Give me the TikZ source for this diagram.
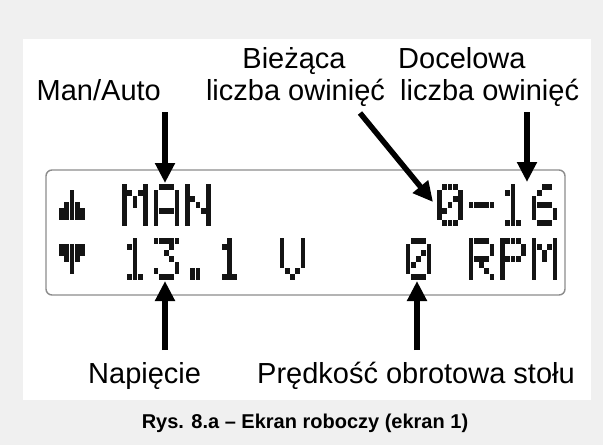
\documentclass[tikz,border=0pt]{standalone}
\usepackage{fontspec}
\setmainfont{Liberation Sans}
\usetikzlibrary{arrows.meta}

% 5x7 dot-matrix glyphs, one row per group, left to right
\def\gM{{1,0,0,0,1},{1,1,0,1,1},{1,0,1,0,1},{1,0,1,0,1},{1,0,0,0,1},{1,0,0,0,1},{1,0,0,0,1}}
\def\gA{{0,1,1,1,0},{1,0,0,0,1},{1,0,0,0,1},{1,0,0,0,1},{1,1,1,1,1},{1,0,0,0,1},{1,0,0,0,1}}
\def\gN{{1,0,0,0,1},{1,0,0,0,1},{1,1,0,0,1},{1,0,1,0,1},{1,0,0,1,1},{1,0,0,0,1},{1,0,0,0,1}}
\def\gZero{{0,1,1,1,0},{1,0,0,0,1},{1,0,0,1,1},{1,0,1,0,1},{1,1,0,0,1},{1,0,0,0,1},{0,1,1,1,0}}
\def\gDash{{0,0,0,0,0},{0,0,0,0,0},{0,0,0,0,0},{1,1,1,1,1},{0,0,0,0,0},{0,0,0,0,0},{0,0,0,0,0}}
\def\gOne{{0,0,1,0,0},{0,1,1,0,0},{0,0,1,0,0},{0,0,1,0,0},{0,0,1,0,0},{0,0,1,0,0},{0,1,1,1,0}}
\def\gSix{{0,0,1,1,0},{0,1,0,0,0},{1,0,0,0,0},{1,1,1,1,0},{1,0,0,0,1},{1,0,0,0,1},{0,1,1,1,0}}
\def\gThree{{1,1,1,1,1},{0,0,0,1,0},{0,0,1,0,0},{0,0,0,1,0},{0,0,0,0,1},{1,0,0,0,1},{0,1,1,1,0}}
\def\gDot{{0,0,0,0,0},{0,0,0,0,0},{0,0,0,0,0},{0,0,0,0,0},{0,0,0,0,0},{0,1,1,0,0},{0,1,1,0,0}}
\def\gV{{1,0,0,0,1},{1,0,0,0,1},{1,0,0,0,1},{1,0,0,0,1},{1,0,0,0,1},{0,1,0,1,0},{0,0,1,0,0}}
\def\gR{{1,1,1,1,0},{1,0,0,0,1},{1,0,0,0,1},{1,1,1,1,0},{1,0,1,0,0},{1,0,0,1,0},{1,0,0,0,1}}
\def\gP{{1,1,1,1,0},{1,0,0,0,1},{1,0,0,0,1},{1,1,1,1,0},{1,0,0,0,0},{1,0,0,0,0},{1,0,0,0,0}}
\def\gUp{{0,0,0,0,0},{0,0,1,0,0},{0,0,1,0,0},{0,1,1,1,0},{1,1,1,1,1},{1,1,1,1,1}}
\def\gDown{{0,0,0,0,0},{1,1,1,1,1},{1,1,1,1,1},{0,1,1,1,0},{0,0,1,0,0},{0,0,1,0,0}}

% dot pitch, dot size and left edge of the character grid
\def\dpx{5.25}
\def\dpy{6.0}
\def\dw{4.85}
\def\dh{5.5}
\def\lcdx{59}

% #1 column, #2 top of the text line, #3 glyph
\newcommand\lcdchar[3]{%
  \foreach \rowbits [count=\jj from 0] in #3 {
    \foreach \bit [count=\ii from 0] in \rowbits {
      \ifnum\bit=1
        \fill[lcddot] ({\lcdx+#1*6*\dpx+\ii*\dpx},{#2+\jj*\dpy}) rectangle ++(\dw,\dh);
      \fi
    }
  }%
}

\begin{document}
\begin{tikzpicture}[x=1pt,y=-1pt,
  lcddot/.style={fill=black!92},
  lbl/.style={inner sep=0pt,font=\fontsize{29}{34}\selectfont},
  pointer/.style={line width=5.5pt,-{Triangle[length=20pt,width=19pt]}},
  lcdframe/.style={draw=black!45,line width=1.4pt,rounded corners=6pt}]

\path[use as bounding box,fill=black!6] (0,0) rectangle (603,445);
\fill[white] (22.5,39) rectangle (591,400);

% display
\draw[lcdframe] (46,170) rectangle (565,295);

% line 1
\lcdchar{0}{184}{\gUp}
\lcdchar{2}{184}{\gM}
\lcdchar{3}{184}{\gA}
\lcdchar{4}{184}{\gN}
\lcdchar{12}{184}{\gZero}
\lcdchar{13}{184}{\gDash}
\lcdchar{14}{184}{\gOne}
\lcdchar{15}{184}{\gSix}
% line 2
\lcdchar{0}{238}{\gDown}
\lcdchar{2}{238}{\gOne}
\lcdchar{3}{238}{\gThree}
\lcdchar{4}{238}{\gDot}
\lcdchar{5}{238}{\gOne}
\lcdchar{7}{238}{\gV}
\lcdchar{11}{238}{\gZero}
\lcdchar{13}{238}{\gR}
\lcdchar{14}{238}{\gP}
\lcdchar{15}{238}{\gM}

% labels
\node[lbl,anchor=base west] (manauto) at (36.5,100) {Man/Auto};
\node[lbl,anchor=base] (biez1) at (294,68) {Bieżąca};
\node[lbl,anchor=base] (biez2) at (295.5,100) {liczba owinięć};
\node[lbl,anchor=base west] (doc1) at (398,68) {Docelowa};
\node[lbl,anchor=base west] (doc2) at (400,100) {liczba owinięć};
\node[lbl,anchor=base west] (volt) at (88,383) {Napięcie};
\node[lbl,anchor=base west] (speed) at (257,383) {Prędkość obrotowa stołu};
\node[inner sep=0pt,anchor=base,font=\bfseries\fontsize{20}{24}\selectfont] (caption) at (305,428)
  {Rys. 8.a – Ekran roboczy (ekran 1)};

% pointer ends
\coordinate (manTail) at (165,112);
\coordinate (manTip) at (165,183);
\coordinate (curTail) at (360,113);
\coordinate (curTip) at (433,202);
\coordinate (tgtTail) at (527,112);
\coordinate (tgtTip) at (527,182);
\coordinate (voltTail) at (165,350);
\coordinate (voltTip) at (165,281);
\coordinate (speedTail) at (417,350);
\coordinate (speedTip) at (417,281);

\draw[pointer] (manTail) -- (manTip);
\draw[pointer] (curTail) -- (curTip);
\draw[pointer] (tgtTail) -- (tgtTip);
\draw[pointer] (voltTail) -- (voltTip);
\draw[pointer] (speedTail) -- (speedTip);
\end{tikzpicture}
\end{document}
